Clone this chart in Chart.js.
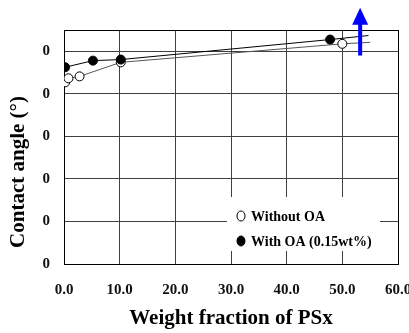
<!DOCTYPE html>
<html lang="en">
<head>
<meta charset="UTF-8">
<title>Contact angle vs weight fraction of PSx</title>
<script src="https://cdn.jsdelivr.net/npm/chart.js"></script>
<style>
  html, body { margin: 0; padding: 0; background: #fff; }
  .chart-box { width: 409px; height: 333px; }
</style>
</head>
<body>
<div class="chart-box"><canvas id="angleChart" width="409" height="333"></canvas></div>
<script>
// values
const xTicks = [0, 10, 20, 30, 40, 50, 60];
const yTicks = [0, 20, 40, 60, 80, 100];

const seriesLabels = ["Without OA", "With OA (0.15wt%)"];
// last point of each series is the end of the drawn line (no marker)
const withoutOaX = [0.2, 0.8, 2.8, 10.2, 50.0, 55.0];
const withoutOaY = [85.4, 87.3, 88.2, 94.8, 103.5, 104.2];
const withOaX = [0.2, 5.2, 10.2, 47.8, 54.7];
const withOaY = [92.5, 95.6, 96.1, 105.5, 107.4];

const arrowAt = { x: 53.2, from: 98, to: 120.5 };

const serif = "'Liberation Serif', 'Times New Roman', serif";

const toPoints = (xs, ys) => xs.map((x, i) => ({ x, y: ys[i] }));
const radii = (xs, r) => xs.map((_, i) => i === xs.length - 1 ? 0 : r);

const overlay = {
  id: "overlay",
  beforeDatasetsDraw(chart) {
    const { ctx, chartArea: a } = chart;
    ctx.save();
    ctx.strokeStyle = "#000";
    ctx.lineWidth = 1;
    ctx.strokeRect(Math.round(a.left) + 0.5, Math.round(a.top) + 0.5, Math.round(a.right - a.left), Math.round(a.bottom - a.top));
    ctx.restore();
  },
  afterDraw(chart) {
    const { ctx, scales } = chart;
    ctx.save();
    // tick labels are cut on the left in the original
    ctx.fillStyle = "#fff";
    ctx.fillRect(0, 20, 43, 258);

    // y title, clipped at the left edge
    ctx.save();
    ctx.beginPath();
    ctx.rect(10, 0, 60, 333);
    ctx.clip();
    ctx.translate(24, 172);
    ctx.rotate(-Math.PI / 2);
    ctx.fillStyle = "#000";
    ctx.font = "bold 21px " + serif;
    ctx.textAlign = "center";
    ctx.textBaseline = "alphabetic";
    ctx.fillText("Contact angle (°)", 0, 0);
    ctx.restore();

    // legend inside plot
    ctx.fillStyle = "#fff";
    ctx.fillRect(227, 197, 153, 54);
    ctx.font = "bold 14px " + serif;
    ctx.textBaseline = "middle";
    ctx.textAlign = "left";
    chart.data.datasets.forEach((ds, i) => {
      const y = 216 + i * 25;
      ctx.beginPath();
      ctx.ellipse(241, y, 4, 5, 0, 0, Math.PI * 2);
      ctx.fillStyle = ds.pointBackgroundColor;
      ctx.fill();
      ctx.strokeStyle = "#000";
      ctx.lineWidth = 1;
      ctx.stroke();
      ctx.fillStyle = "#000";
      ctx.fillText(ds.label, 251, y + 1);
    });

    // blue arrow
    const ax = scales.x.getPixelForValue(arrowAt.x);
    const y0 = scales.y.getPixelForValue(arrowAt.from);
    const y1 = scales.y.getPixelForValue(arrowAt.to);
    ctx.fillStyle = "#0000ff";
    ctx.fillRect(ax - 2, y1 + 14, 4, y0 - y1 - 14);
    ctx.beginPath();
    ctx.moveTo(ax, y1);
    ctx.lineTo(ax + 8, y1 + 17);
    ctx.lineTo(ax - 8, y1 + 17);
    ctx.closePath();
    ctx.fill();
    ctx.restore();
  }
};

new Chart(document.getElementById("angleChart"), {
  type: "scatter",
  data: {
    datasets: [
      {
        label: seriesLabels[0],
        data: toPoints(withoutOaX, withoutOaY),
        showLine: true,
        borderColor: "#555",
        borderWidth: 1,
        pointBackgroundColor: "#fff",
        pointBorderColor: "#000",
        pointBorderWidth: 1,
        pointRadius: radii(withoutOaX, 4.5),
        order: 2
      },
      {
        label: seriesLabels[1],
        data: toPoints(withOaX, withOaY),
        showLine: true,
        borderColor: "#000",
        borderWidth: 1,
        pointBackgroundColor: "#000",
        pointBorderColor: "#000",
        pointBorderWidth: 1,
        pointRadius: radii(withOaX, 4.5),
        order: 1
      }
    ]
  },
  options: {
    responsive: false,
    animation: false,
    devicePixelRatio: 1,
    layout: { padding: { top: 30, right: 11, left: 0, bottom: 0 } },
    plugins: { legend: { display: false }, tooltip: { enabled: false } },
    scales: {
      x: {
        type: "linear",
        min: 0,
        max: 60,
        afterBuildTicks: s => { s.ticks = xTicks.map(v => ({ value: v })); },
        afterFit: s => { s.height = 69; s.paddingLeft = 0; s.paddingRight = 0; },
        grid: { color: "#404040", drawTicks: false },
        border: { display: false },
        ticks: {
          padding: 17,
          color: "#111",
          font: { family: serif, weight: "bold", size: 15 },
          callback: v => v.toFixed(1)
        },
        title: {
          display: true,
          text: "Weight fraction of PSx",
          color: "#000",
          font: { family: serif, weight: "bold", size: 21 },
          padding: { top: 0, bottom: 2 }
        }
      },
      y: {
        min: 0,
        max: 110,
        afterBuildTicks: s => { s.ticks = yTicks.map(v => ({ value: v })); },
        afterFit: s => { s.width = 64; s.paddingTop = 0; s.paddingBottom = 0; },
        grid: { color: "#404040", drawTicks: false },
        border: { display: false },
        ticks: {
          padding: 14,
          color: "#111",
          font: { family: serif, weight: "bold", size: 15 }
        }
      }
    }
  },
  plugins: [overlay]
});
</script>
</body>
</html>
